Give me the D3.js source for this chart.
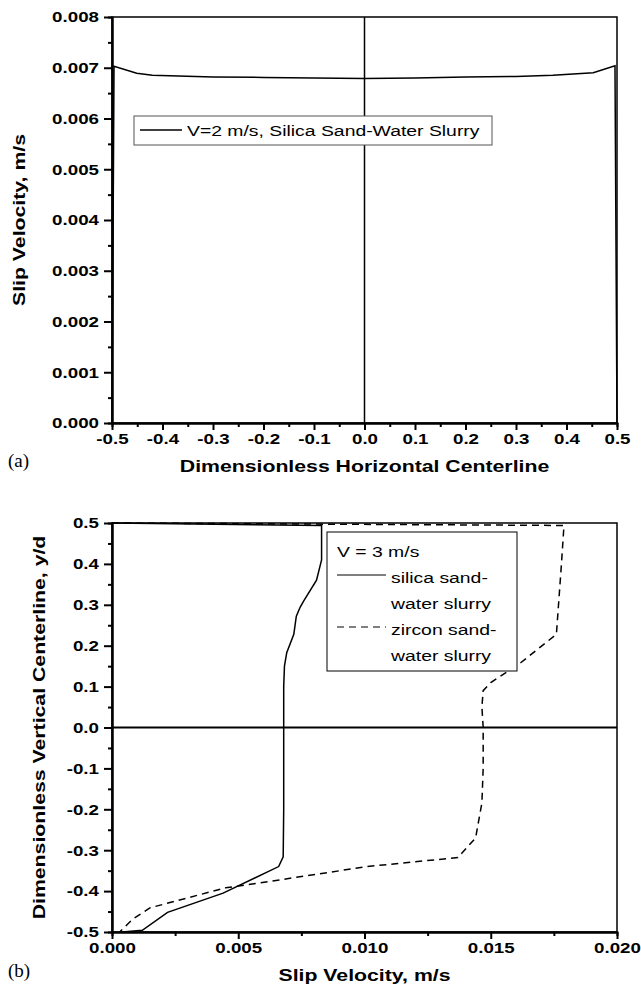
<!DOCTYPE html>
<html lang="en">
<head>
<meta charset="UTF-8">
<title>Slip velocity</title>
<style>
body { margin: 0; background: #fff; }
svg { display: block; }
.tick text { font: bold 15px "Liberation Sans", Arial, sans-serif; fill: #000; }
.domain { stroke: #000; stroke-width: 2px; }
.tick line { stroke: #000; stroke-width: 2px; }
.title { font: bold 17px "Liberation Sans", Arial, sans-serif; fill: #000; }
.panel { font: 19px "Liberation Serif", "Times New Roman", serif; fill: #000; }
.leg { font: 15.5px "Liberation Sans", Arial, sans-serif; fill: #000; }
</style>
</head>
<body>
<script src="https://cdnjs.cloudflare.com/ajax/libs/d3/7.8.5/d3.min.js"></script>
<script>
// panel (a): slip velocity along horizontal centerline, V = 2 m/s
var posA = [-0.5, -0.496, -0.451, -0.42, -0.3, -0.2, -0.1, 0, 0.1, 0.2, 0.3, 0.373, 0.453, 0.496, 0.5];
var slipA = [0, 0.00703, 0.00689, 0.00685, 0.00682, 0.00681, 0.0068, 0.00679, 0.0068, 0.00682, 0.00683, 0.00685, 0.0069, 0.00704, 0];
var ticksAx = [-0.5, -0.4, -0.3, -0.2, -0.1, 0.0, 0.1, 0.2, 0.3, 0.4, 0.5];
var ticksAy = [0, 0.001, 0.002, 0.003, 0.004, 0.005, 0.006, 0.007, 0.008];

// panel (b): slip velocity along vertical centerline, V = 3 m/s
var silicaV = [0, 0.0083, 0.0083, 0.0081, 0.0076, 0.00745, 0.0073, 0.0072, 0.00692, 0.00683, 0.0068, 0.0068, 0.0068, 0.00678, 0.0066, 0.0044, 0.0022, 0.0012, 0.0004];
var silicaY = [0.5, 0.494, 0.41, 0.36, 0.31, 0.294, 0.272, 0.228, 0.183, 0.15, 0.1, 0, -0.2, -0.316, -0.34, -0.405, -0.452, -0.496, -0.5];
var zirconV = [0, 0.0179, 0.0178, 0.0176, 0.0162, 0.0154, 0.015, 0.0147, 0.01465, 0.0147, 0.0147, 0.01465, 0.0144, 0.0137, 0.0101, 0.0067, 0.0045, 0.0015, 0.00083, 0.0003];
var zirconY = [0.5, 0.494, 0.4, 0.228, 0.159, 0.126, 0.11, 0.09, 0.05, 0, -0.1, -0.184, -0.27, -0.318, -0.34, -0.372, -0.392, -0.441, -0.468, -0.5];
var ticksBx = [0, 0.005, 0.01, 0.015, 0.02];
var ticksBy = [-0.5, -0.4, -0.3, -0.2, -0.1, 0, 0.1, 0.2, 0.3, 0.4, 0.5];

var svg = d3.select("body").append("svg")
  .attr("width", 641)
  .attr("height", 997);

var left = 112, right = 617;
var S = 1.25; // the original lettering is wide, stretch text along its baseline

function minorTicks(major) {
  var out = [];
  for (var k = 0; k < major.length - 1; k++) out.push((major[k] + major[k + 1]) / 2);
  return out;
}

// hyphen instead of unicode minus, like the original
function fmt(p) {
  var f = d3.format(p);
  return function (d) { return f(d).replace("\u2212", "-"); };
}

function widen(axisG) {
  axisG.selectAll(".tick text").each(function () {
    var t = d3.select(this);
    t.attr("x", (+t.attr("x") || 0) / S).attr("transform", "scale(" + S + ",1)");
  });
}

function frame(g, top, bottom) {
  g.append("rect")
    .attr("x", left).attr("y", top)
    .attr("width", right - left).attr("height", bottom - top)
    .attr("fill", "none").attr("stroke", "#000").attr("stroke-width", 1.5);
}

function wideText(g, cls, x, y, rot, anchor, str) {
  return g.append("text").attr("class", cls).attr("text-anchor", anchor)
    .attr("transform", "translate(" + x + "," + y + ")" + (rot ? " rotate(" + rot + ")" : "") + " scale(" + S + ",1)")
    .text(str);
}

// ---------------- panel (a) ----------------
var aTop = 17, aBottom = 423;
var xa = d3.scaleLinear().domain([-0.5, 0.5]).range([left, right]);
var ya = d3.scaleLinear().domain([0, 0.008]).range([aBottom, aTop]);
var ga = svg.append("g");
frame(ga, aTop, aBottom);

// zero line
ga.append("line")
  .attr("x1", xa(0)).attr("x2", xa(0))
  .attr("y1", aTop).attr("y2", aBottom)
  .attr("stroke", "#000").attr("stroke-width", 1.5);

ga.append("g").attr("transform", "translate(0," + aBottom + ")")
  .call(d3.axisBottom(xa).tickValues(minorTicks(ticksAx)).tickSize(4).tickFormat(""));
ga.append("g").attr("transform", "translate(0," + aBottom + ")")
  .call(d3.axisBottom(xa).tickValues(ticksAx).tickSize(7).tickSizeOuter(0).tickPadding(3)
    .tickFormat(fmt(".1f")))
  .call(widen);
ga.append("g").attr("transform", "translate(" + left + ",0)")
  .call(d3.axisLeft(ya).tickValues(minorTicks(ticksAy)).tickSize(4).tickFormat(""));
ga.append("g").attr("transform", "translate(" + left + ",0)")
  .call(d3.axisLeft(ya).tickValues(ticksAy).tickSize(8).tickSizeOuter(0).tickPadding(5)
    .tickFormat(fmt(".3f")))
  .call(widen);

ga.append("path")
  .datum(d3.range(posA.length))
  .attr("fill", "none").attr("stroke", "#000").attr("stroke-width", 1.5)
  .attr("d", d3.line().x(function (i) { return xa(posA[i]); }).y(function (i) { return ya(slipA[i]); }));

// legend (a)
var la = ga.append("g");
la.append("rect").attr("x", 134).attr("y", 116).attr("width", 358).attr("height", 29)
  .attr("fill", "#fff").attr("stroke", "#555").attr("stroke-width", 1);
la.append("line").attr("x1", 140).attr("x2", 182).attr("y1", 130).attr("y2", 130)
  .attr("stroke", "#000").attr("stroke-width", 1.5);
wideText(la, "leg", 187, 136, 0, "start", "V=2 m/s, Silica Sand-Water Slurry");

wideText(ga, "title", (left + right) / 2, 472, 0, "middle", "Dimensionless Horizontal Centerline");
wideText(ga, "title", 25, (aTop + aBottom) / 2, -90, "middle", "Slip Velocity, m/s");
ga.append("text").attr("class", "panel").attr("x", 8).attr("y", 467).text("(a)");

// ---------------- panel (b) ----------------
var bTop = 523, bBottom = 932;
var xb = d3.scaleLinear().domain([0, 0.02]).range([left, right]);
var yb = d3.scaleLinear().domain([-0.5, 0.5]).range([bBottom, bTop]);
var gb = svg.append("g");
frame(gb, bTop, bBottom);

gb.append("line")
  .attr("x1", left).attr("x2", right)
  .attr("y1", yb(0)).attr("y2", yb(0))
  .attr("stroke", "#000").attr("stroke-width", 2);

gb.append("g").attr("transform", "translate(0," + bBottom + ")")
  .call(d3.axisBottom(xb).tickValues(minorTicks(ticksBx)).tickSize(4).tickFormat(""));
gb.append("g").attr("transform", "translate(0," + bBottom + ")")
  .call(d3.axisBottom(xb).tickValues(ticksBx).tickSize(7).tickSizeOuter(0).tickPadding(3)
    .tickFormat(fmt(".3f")))
  .call(widen);
gb.append("g").attr("transform", "translate(" + left + ",0)")
  .call(d3.axisLeft(yb).tickValues(minorTicks(ticksBy)).tickSize(4).tickFormat(""));
gb.append("g").attr("transform", "translate(" + left + ",0)")
  .call(d3.axisLeft(yb).tickValues(ticksBy).tickSize(8).tickSizeOuter(0).tickPadding(5)
    .tickFormat(fmt(".1f")))
  .call(widen);

var lineB = function (vs, ys) {
  return d3.line().x(function (i) { return xb(vs[i]); }).y(function (i) { return yb(ys[i]); })(d3.range(vs.length));
};
gb.append("path").attr("d", lineB(silicaV, silicaY))
  .attr("fill", "none").attr("stroke", "#000").attr("stroke-width", 1.5);
gb.append("path").attr("d", lineB(zirconV, zirconY))
  .attr("fill", "none").attr("stroke", "#000").attr("stroke-width", 1.5)
  .attr("stroke-dasharray", "7,5");

// legend (b)
var lb = gb.append("g");
lb.append("rect").attr("x", 327).attr("y", 532).attr("width", 190).attr("height", 139)
  .attr("fill", "#fff").attr("stroke", "#000").attr("stroke-width", 1);
wideText(lb, "leg", 337, 557, 0, "start", "V = 3 m/s");
lb.append("line").attr("x1", 337).attr("x2", 386).attr("y1", 575).attr("y2", 575)
  .attr("stroke", "#000").attr("stroke-width", 1);
wideText(lb, "leg", 391, 583, 0, "start", "silica sand-");
wideText(lb, "leg", 391, 609, 0, "start", "water slurry");
lb.append("line").attr("x1", 337).attr("x2", 386).attr("y1", 627).attr("y2", 627)
  .attr("stroke", "#000").attr("stroke-width", 1).attr("stroke-dasharray", "7,5");
wideText(lb, "leg", 391, 635, 0, "start", "zircon sand-");
wideText(lb, "leg", 391, 661, 0, "start", "water slurry");

wideText(gb, "title", (left + right) / 2, 981, 0, "middle", "Slip Velocity, m/s");
wideText(gb, "title", 45, (bTop + bBottom) / 2, -90, "middle", "Dimensionless Vertical Centerline, y/d");
gb.append("text").attr("class", "panel").attr("x", 8).attr("y", 977).text("(b)");
</script>
</body>
</html>
